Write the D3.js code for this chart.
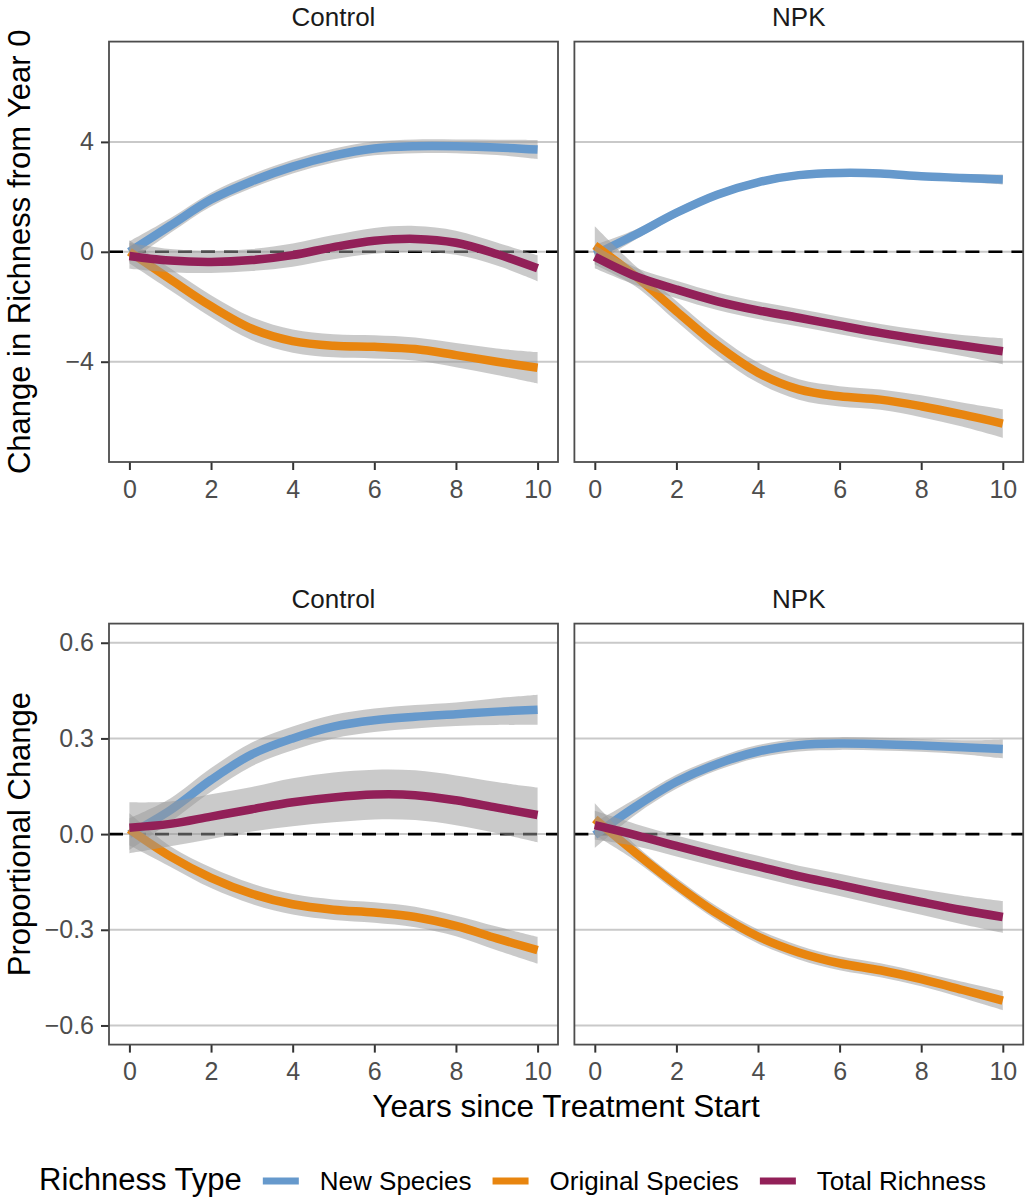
<!DOCTYPE html>
<meta charset="utf-8">
<script src="https://cdnjs.cloudflare.com/ajax/libs/d3/7.8.5/d3.min.js"></script>
<style>
  body { margin: 0; background: #fff; }
  text { font-family: "Liberation Sans", Arial, sans-serif; }
</style>
<div id="chart"></div>
<script>

  // years since treatment start
  const years = [0, 1, 2, 3, 4, 5, 6, 7, 8, 9, 10]

  const seriesNames = ['New Species', 'Original Species', 'Total Richness']
  const seriesColors = ['#6699cc', '#e8850f', '#922058']
  const facetNames = ['Control', 'NPK']

  // change in richness from year 0 (fitted value, half width of the ribbon)
  const ctrlNewAbs = [0.0, 0.95, 1.9, 2.57, 3.1, 3.5, 3.76, 3.84, 3.84, 3.8, 3.72]
  const ctrlNewAbsSe = [0.38, 0.27, 0.25, 0.25, 0.25, 0.25, 0.25, 0.25, 0.25, 0.28, 0.35]
  const ctrlOrigAbs = [0, -1.0, -1.98, -2.8, -3.25, -3.42, -3.46, -3.54, -3.76, -4.0, -4.22]
  const ctrlOrigAbsSe = [0.42, 0.4, 0.4, 0.42, 0.42, 0.42, 0.42, 0.42, 0.44, 0.48, 0.57]
  const ctrlTotAbs = [-0.15, -0.32, -0.37, -0.3, -0.12, 0.17, 0.4, 0.47, 0.33, -0.08, -0.6]
  const ctrlTotAbsSe = [0.47, 0.42, 0.4, 0.4, 0.42, 0.44, 0.47, 0.47, 0.44, 0.42, 0.47]

  const npkNewAbs = [-0.1, 0.63, 1.42, 2.08, 2.53, 2.79, 2.87, 2.85, 2.75, 2.69, 2.63]
  const npkNewAbsSe = [0.35, 0.18, 0.15, 0.14, 0.13, 0.13, 0.13, 0.13, 0.13, 0.14, 0.18]
  const npkOrigAbs = [0.23, -0.89, -2.16, -3.4, -4.4, -5.01, -5.26, -5.38, -5.62, -5.92, -6.25]
  const npkOrigAbsSe = [0.7, 0.37, 0.37, 0.37, 0.37, 0.37, 0.37, 0.37, 0.4, 0.44, 0.52]
  const npkTotAbs = [-0.18, -0.89, -1.37, -1.8, -2.13, -2.4, -2.68, -2.95, -3.19, -3.41, -3.62]
  const npkTotAbsSe = [0.42, 0.32, 0.32, 0.32, 0.32, 0.32, 0.32, 0.32, 0.34, 0.38, 0.47]

  // proportional change
  const ctrlNewProp = [0.0, 0.075, 0.17, 0.25, 0.30, 0.337, 0.357, 0.368, 0.376, 0.384, 0.39]
  const ctrlNewPropSe = [0.05, 0.037, 0.037, 0.037, 0.037, 0.037, 0.037, 0.037, 0.037, 0.042, 0.047]
  const ctrlOrigProp = [0.015, -0.07, -0.137, -0.187, -0.22, -0.237, -0.246, -0.26, -0.288, -0.327, -0.364]
  const ctrlOrigPropSe = [0.05, 0.032, 0.032, 0.032, 0.032, 0.032, 0.032, 0.032, 0.032, 0.037, 0.042]
  const ctrlTotProp = [0.02, 0.032, 0.055, 0.078, 0.1, 0.115, 0.124, 0.122, 0.106, 0.083, 0.06]
  const ctrlTotPropSe = [0.08, 0.07, 0.07, 0.07, 0.075, 0.078, 0.078, 0.078, 0.078, 0.08, 0.086]

  const npkNewProp = [-0.003, 0.086, 0.164, 0.22, 0.259, 0.279, 0.284, 0.282, 0.278, 0.272, 0.267]
  const npkNewPropSe = [0.04, 0.025, 0.022, 0.02, 0.02, 0.02, 0.02, 0.02, 0.02, 0.022, 0.03]
  const npkOrigProp = [0.047, -0.059, -0.159, -0.249, -0.321, -0.371, -0.405, -0.427, -0.455, -0.488, -0.522]
  const npkOrigPropSe = [0.05, 0.025, 0.022, 0.022, 0.022, 0.022, 0.022, 0.022, 0.022, 0.025, 0.03]
  const npkTotProp = [0.028, -0.003, -0.037, -0.07, -0.101, -0.132, -0.159, -0.187, -0.213, -0.238, -0.26]
  const npkTotPropSe = [0.045, 0.035, 0.033, 0.033, 0.033, 0.033, 0.035, 0.037, 0.04, 0.045, 0.05]

  const xTicks = [0, 2, 4, 6, 8, 10]
  const absTicks = [-4, 0, 4]
  const propTicks = [-0.6, -0.3, 0, 0.3, 0.6]

  const width = 1025
  const height = 1200

  const svg = d3.select('#chart').append('svg')
    .attr('width', width)
    .attr('height', height)

  svg.append('rect').attr('width', width).attr('height', height).attr('fill', '#fff')

  const cols = [{ x0: 109, x1: 558 }, { x0: 574.4, x1: 1023.2 }]
  const rows = [
    {
      y0: 41.6, y1: 462, domain: [-7.65, 7.65], ticks: absTicks, fmt: d3.format('d'),
      title: 'Change in Richness from Year 0',
      data: [
        [[ctrlNewAbs, ctrlNewAbsSe], [ctrlOrigAbs, ctrlOrigAbsSe], [ctrlTotAbs, ctrlTotAbsSe]],
        [[npkNewAbs, npkNewAbsSe], [npkOrigAbs, npkOrigAbsSe], [npkTotAbs, npkTotAbsSe]]
      ]
    },
    {
      y0: 623.6, y1: 1044.6, domain: [-0.66, 0.66], ticks: propTicks, fmt: d3.format('.1f'),
      title: 'Proportional Change',
      data: [
        [[ctrlNewProp, ctrlNewPropSe], [ctrlOrigProp, ctrlOrigPropSe], [ctrlTotProp, ctrlTotPropSe]],
        [[npkNewProp, npkNewPropSe], [npkOrigProp, npkOrigPropSe], [npkTotProp, npkTotPropSe]]
      ]
    }
  ]

  rows.forEach(function (row, ri) {
    const y = d3.scaleLinear().domain(row.domain).range([row.y1, row.y0])

    cols.forEach(function (col, ci) {
      const x = d3.scaleLinear().domain([-0.5, 10.5]).range([col.x0, col.x1])
      const g = svg.append('g')
      const clipId = 'clip' + ri + ci

      g.append('clipPath').attr('id', clipId)
        .append('rect')
        .attr('x', col.x0).attr('y', row.y0)
        .attr('width', col.x1 - col.x0).attr('height', row.y1 - row.y0)

      // strip label
      g.append('text')
        .attr('x', (col.x0 + col.x1) / 2)
        .attr('y', row.y0 - 15.6)
        .attr('text-anchor', 'middle')
        .attr('font-size', 26)
        .attr('fill', '#1a1a1a')
        .text(facetNames[ci])

      // horizontal grid
      g.append('g').selectAll('line')
        .data(row.ticks)
        .join('line')
        .attr('x1', col.x0).attr('x2', col.x1)
        .attr('y1', d => y(d)).attr('y2', d => y(d))
        .attr('stroke', '#c9c9c9')
        .attr('stroke-width', 2)

      const plot = g.append('g').attr('clip-path', 'url(#' + clipId + ')')

      plot.append('line')
        .attr('x1', col.x0).attr('x2', col.x1)
        .attr('y1', y(0)).attr('y2', y(0))
        .attr('stroke', '#000')
        .attr('stroke-width', 2.6)
        .attr('stroke-dasharray', '14,9')

      row.data[ci].forEach(function (s, si) {
        const pts = years.map((yr, i) => ({ x: yr, v: s[0][i], se: s[1][i] }))

        const area = d3.area()
          .curve(d3.curveCatmullRom.alpha(0.5))
          .x(d => x(d.x))
          .y0(d => y(d.v - d.se))
          .y1(d => y(d.v + d.se))

        const line = d3.line()
          .curve(d3.curveCatmullRom.alpha(0.5))
          .x(d => x(d.x))
          .y(d => y(d.v))

        plot.append('path')
          .datum(pts)
          .attr('d', area)
          .attr('fill', '#999999')
          .attr('fill-opacity', 0.52)

        plot.append('path')
          .datum(pts)
          .attr('d', line)
          .attr('fill', 'none')
          .attr('stroke', seriesColors[si])
          .attr('stroke-width', 8.5)
      })

      // x axis
      const xAxis = g.append('g')
        .attr('transform', 'translate(0,' + row.y1 + ')')
        .call(d3.axisBottom(x).tickValues(xTicks).tickSize(8).tickPadding(10))
      xAxis.select('.domain').remove()
      xAxis.selectAll('.tick line').attr('stroke', '#333').attr('stroke-width', 2)
      xAxis.selectAll('.tick text')
        .attr('font-size', 25)
        .attr('font-family', '"Liberation Sans", Arial, sans-serif')
        .attr('fill', '#4d4d4d')

      // y axis only on the left column
      if (ci === 0) {
        const yAxis = g.append('g')
          .attr('transform', 'translate(' + col.x0 + ',0)')
          .call(d3.axisLeft(y).tickValues(row.ticks).tickFormat(row.fmt).tickSize(8).tickPadding(7))
        yAxis.select('.domain').remove()
        yAxis.selectAll('.tick line').attr('stroke', '#333').attr('stroke-width', 2)
        yAxis.selectAll('.tick text')
          .attr('font-size', 25)
          .attr('font-family', '"Liberation Sans", Arial, sans-serif')
          .attr('fill', '#4d4d4d')

        svg.append('text')
          .attr('transform', 'translate(30,' + (row.y0 + row.y1) / 2 + ') rotate(-90)')
          .attr('text-anchor', 'middle')
          .attr('font-size', 31)
          .attr('fill', '#000')
          .text(row.title)
      }

      // panel border
      g.append('rect')
        .attr('x', col.x0).attr('y', row.y0)
        .attr('width', col.x1 - col.x0).attr('height', row.y1 - row.y0)
        .attr('fill', 'none')
        .attr('stroke', '#4d4d4d')
        .attr('stroke-width', 1.8)
    })
  })

  // x axis title
  svg.append('text')
    .attr('x', (cols[0].x0 + cols[1].x1) / 2)
    .attr('y', 1117)
    .attr('text-anchor', 'middle')
    .attr('font-size', 31.5)
    .attr('fill', '#000')
    .text('Years since Treatment Start')

  // legend, laid out left to right then centred
  const legend = svg.append('g')
  const gap = 21
  const keyLen = 36
  let cx = 0
  const title = legend.append('text')
    .attr('x', cx).attr('y', 1190)
    .attr('font-size', 31)
    .text('Richness Type')
  cx += title.node().getComputedTextLength() + gap

  seriesNames.forEach(function (name, i) {
    legend.append('line')
      .attr('x1', cx).attr('x2', cx + keyLen)
      .attr('y1', 1181).attr('y2', 1181)
      .attr('stroke', seriesColors[i])
      .attr('stroke-width', 7)
    cx += keyLen + gap
    const t = legend.append('text')
      .attr('x', cx).attr('y', 1190)
      .attr('font-size', 26)
      .text(name)
    cx += t.node().getComputedTextLength() + gap
  })
  cx -= gap
  legend.attr('transform', 'translate(' + (width - cx) / 2 + ',0)')

</script>
